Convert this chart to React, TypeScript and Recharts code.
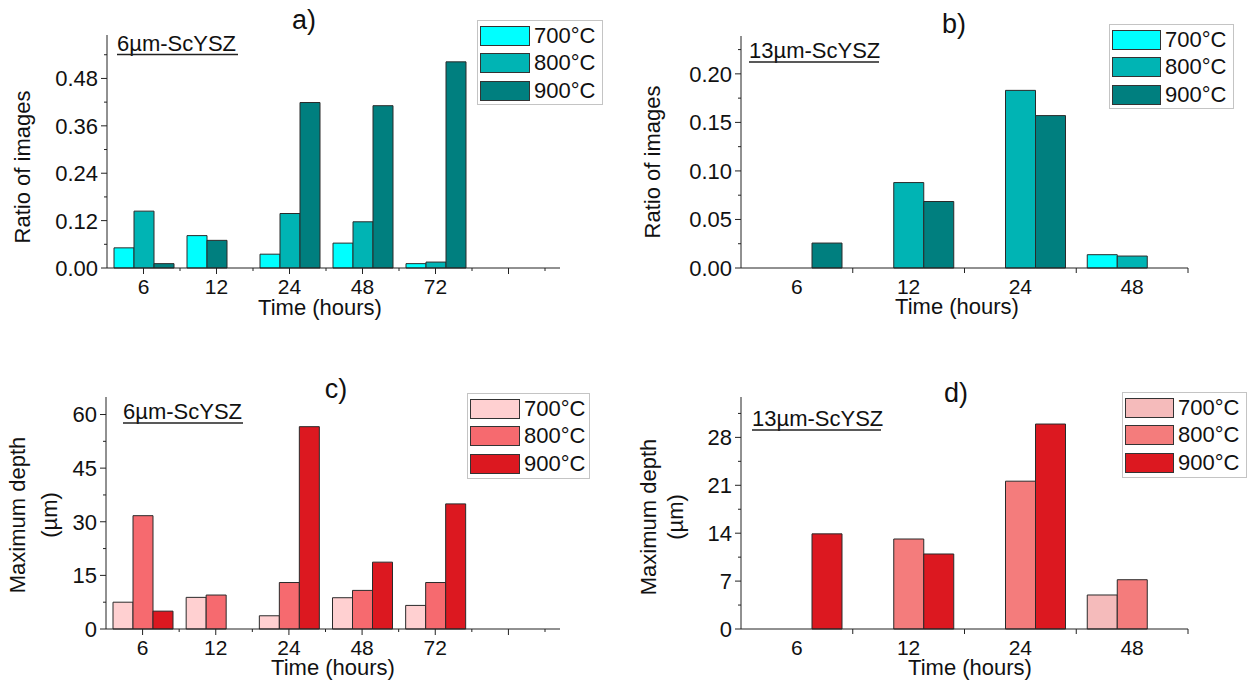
import { BarChart, Bar, XAxis, YAxis, Legend, Cell } from 'recharts';

const FONT = '"Liberation Sans", Arial, Helvetica, sans-serif';

// 6 µm samples (panels a, c): five times plus one empty slot on the right
const hours6 = ['6', '12', '24', '48', '72', ''];
const ratio6_700 = [0.051, 0.082, 0.035, 0.063, 0.011, 0];
const ratio6_800 = [0.144, 0.07, 0.138, 0.117, 0.015, 0];
const ratio6_900 = [0.011, 0, 0.419, 0.411, 0.522, 0];

const depth6_700 = [7.5, 8.85, 3.7, 8.75, 6.6, 0];
const depth6_800 = [31.7, 9.5, 13.0, 10.8, 13.0, 0];
const depth6_900 = [5.0, 0, 56.6, 18.7, 35.0, 0];

// 13 µm samples (panels b, d)
const hours13 = ['6', '12', '24', '48'];
const ratio13_700 = [0, 0, 0, 0.0137];
const ratio13_800 = [0, 0.088, 0.183, 0.0123];
const ratio13_900 = [0.0257, 0.0685, 0.157, 0];

const depth13_700 = [0, 0, 0, 4.97];
const depth13_800 = [0, 13.15, 21.6, 7.2];
const depth13_900 = [13.9, 10.96, 29.95, 0];

const temps = ['700°C', '800°C', '900°C'];

const teal = ['#00FFFF', '#00B4B4', '#007F7F'];
const redC = ['#FFD0D1', '#F66A6F', '#DC1820'];
const redD = ['#F5BBBB', '#F47C7C', '#DC1820'];

const rows = (hours: string[], a: number[], b: number[], c: number[]) =>
  hours.map((hour, i) => ({ hour, t700: a[i], t800: b[i], t900: c[i] }));

const tickList = (step: number, max: number) => {
  const out: number[] = [];
  for (let i = 0; i * step <= max + 1e-9; i++) out.push(+(i * step).toFixed(4));
  return out;
};

const YTick = (props: any) => {
  const { x, y, payload, index, fmt } = props;
  const major = index % 2 === 0;
  return (
    <g>
      <line x1={x - (major ? 6 : 3)} x2={x} y1={y} y2={y} stroke="#222" />
      {major && (
        <text x={x - 9} y={y} dy="0.36em" textAnchor="end" fontSize={22} fontFamily={FONT} fill="#111">
          {fmt(payload.value)}
        </text>
      )}
    </g>
  );
};

const XTick = (props: any) => {
  const { x, y, payload, band, centerTicks } = props;
  const half = band / 2;
  return (
    <g>
      {centerTicks && <line x1={x} x2={x} y1={y} y2={y + 6} stroke="#222" />}
      <line x1={x + half} x2={x + half} y1={y} y2={y + (centerTicks ? 3 : 5)} stroke="#222" />
      <text x={x} y={y + 26} textAnchor="middle" fontSize={21} fontFamily={FONT} fill="#111">
        {payload.value}
      </text>
    </g>
  );
};

const LegendBox = ({ payload, w, h, sw }: any) => (
  <div
    style={{
      width: w,
      height: h,
      boxSizing: 'border-box',
      border: '1px solid #c4c4c4',
      background: '#fff',
      padding: '1px 2px',
      fontFamily: FONT,
    }}
  >
    {(payload || []).map((p: any) => (
      <div key={p.value} style={{ display: 'flex', alignItems: 'center', height: 27.5 }}>
        <span
          style={{
            width: sw,
            height: 20,
            boxSizing: 'border-box',
            background: p.color,
            border: '1px solid #333',
          }}
        />
        <span style={{ marginLeft: 4, fontSize: 22, color: '#111', lineHeight: '22px' }}>{p.value}</span>
      </div>
    ))}
  </div>
);

type PanelProps = {
  left: number;
  top: number;
  width: number;
  height: number;
  data: any[];
  colors: string[];
  margin: { top: number; right: number };
  yWidth: number;
  xHeight: number;
  yMax: number;
  minorStep: number;
  fmt: (v: number) => string;
  barSize: number;
  padRight: number;
  centerTicks: boolean;
  legend: { left: number; top: number; w: number; h: number; sw: number };
  recolor800?: { hour: string; color: string };
};

function Panel(p: PanelProps) {
  const plotW = p.width - p.yWidth - p.margin.right;
  const band = (plotW - p.padRight) / p.data.length;
  return (
    <div style={{ position: 'absolute', left: p.left, top: p.top }}>
      <BarChart
        width={p.width}
        height={p.height}
        data={p.data}
        margin={{ top: p.margin.top, right: p.margin.right, bottom: 0, left: 0 }}
        barGap={0}
        barSize={p.barSize}
      >
        <XAxis
          dataKey="hour"
          height={p.xHeight}
          interval={0}
          tickSize={0}
          tickMargin={0}
          padding={{ left: 0, right: p.padRight }}
          axisLine={{ stroke: '#222' }}
          tickLine={false}
          tick={(tp: any) => <XTick {...tp} band={band} centerTicks={p.centerTicks} />}
        />
        <YAxis
          type="number"
          width={p.yWidth}
          domain={[0, p.yMax]}
          ticks={tickList(p.minorStep, p.yMax)}
          interval={0}
          tickSize={0}
          tickMargin={0}
          axisLine={{ stroke: '#222' }}
          tickLine={false}
          tick={(tp: any) => <YTick {...tp} fmt={p.fmt} />}
        />
        <Legend
          layout="vertical"
          align="center"
          verticalAlign="middle"
          wrapperStyle={{ left: p.legend.left, top: p.legend.top, width: p.legend.w, height: p.legend.h }}
          content={(lp: any) => <LegendBox payload={lp.payload} w={p.legend.w} h={p.legend.h} sw={p.legend.sw} />}
        />
        <Bar dataKey="t700" name={temps[0]} fill={p.colors[0]} stroke="#2a2a2a" strokeWidth={1} isAnimationActive={false} />
        <Bar dataKey="t800" name={temps[1]} fill={p.colors[1]} stroke="#2a2a2a" strokeWidth={1} isAnimationActive={false}>
          {p.data.map((d) => (
            <Cell
              key={`c-${d.hour}`}
              fill={p.recolor800 && p.recolor800.hour === d.hour ? p.recolor800.color : p.colors[1]}
            />
          ))}
        </Bar>
        <Bar dataKey="t900" name={temps[2]} fill={p.colors[2]} stroke="#2a2a2a" strokeWidth={1} isAnimationActive={false} />
      </BarChart>
    </div>
  );
}

const txt = { fontFamily: FONT, fill: '#111' };

export default function App() {
  return (
    <div style={{ position: 'absolute', left: 0, top: 0, width: 1249, height: 686, background: '#fff', overflow: 'hidden' }}>
      <Panel
        left={0}
        top={0}
        width={620}
        height={330}
        data={rows(hours6, ratio6_700, ratio6_800, ratio6_900)}
        colors={teal}
        margin={{ top: 35, right: 60 }}
        yWidth={107}
        xHeight={62}
        yMax={0.59}
        minorStep={0.06}
        fmt={(v) => v.toFixed(2)}
        barSize={20}
        padRight={15}
        centerTicks
        legend={{ left: 477, top: 20, w: 126, h: 85, sw: 50 }}
        recolor800={{ hour: '12', color: teal[2] }}
      />
      <Panel
        left={620}
        top={0}
        width={629}
        height={330}
        data={rows(hours13, ratio13_700, ratio13_800, ratio13_900)}
        colors={teal}
        margin={{ top: 36, right: 61 }}
        yWidth={121}
        xHeight={62}
        yMax={0.239}
        minorStep={0.025}
        fmt={(v) => v.toFixed(2)}
        barSize={30}
        padRight={0}
        centerTicks={false}
        legend={{ left: 489, top: 24, w: 125, h: 85, sw: 49 }}
      />
      <Panel
        left={0}
        top={330}
        width={620}
        height={356}
        data={rows(hours6, depth6_700, depth6_800, depth6_900)}
        colors={redC}
        margin={{ top: 67, right: 60 }}
        yWidth={106}
        xHeight={57}
        yMax={64.9}
        minorStep={7.5}
        fmt={(v) => String(v)}
        barSize={20}
        padRight={15}
        centerTicks
        legend={{ left: 467, top: 63, w: 123, h: 86, sw: 50 }}
      />
      <Panel
        left={620}
        top={330}
        width={629}
        height={356}
        data={rows(hours13, depth13_700, depth13_800, depth13_900)}
        colors={redD}
        margin={{ top: 67, right: 61 }}
        yWidth={121}
        xHeight={57}
        yMax={33.9}
        minorStep={3.5}
        fmt={(v) => String(v)}
        barSize={30}
        padRight={0}
        centerTicks={false}
        legend={{ left: 502, top: 62, w: 125, h: 86, sw: 49 }}
      />

      <svg width={1249} height={686} style={{ position: 'absolute', left: 0, top: 0, pointerEvents: 'none' }}>
        {/* panel titles */}
        <text x={304} y={29} textAnchor="middle" fontSize={27} {...txt}>a)</text>
        <text x={954} y={33} textAnchor="middle" fontSize={27} {...txt}>b)</text>
        <text x={336} y={398} textAnchor="middle" fontSize={27} {...txt}>c)</text>
        <text x={956} y={402} textAnchor="middle" fontSize={27} {...txt}>d)</text>

        {/* sample labels */}
        <text x={117} y={51} fontSize={22} {...txt}>6µm-ScYSZ</text>
        <line x1={117} x2={238} y1={54.5} y2={54.5} stroke="#222" strokeWidth={1.5} />
        <text x={749} y={58} fontSize={22} {...txt}>13µm-ScYSZ</text>
        <line x1={749} x2={879} y1={62} y2={62} stroke="#222" strokeWidth={1.5} />
        <text x={123} y={419} fontSize={22} {...txt}>6µm-ScYSZ</text>
        <line x1={123} x2={243} y1={423} y2={423} stroke="#222" strokeWidth={1.5} />
        <text x={752} y={426} fontSize={22} {...txt}>13µm-ScYSZ</text>
        <line x1={752} x2={881} y1={430} y2={430} stroke="#222" strokeWidth={1.5} />

        {/* axis titles */}
        <text x={320} y={315} textAnchor="middle" fontSize={22} {...txt}>Time (hours)</text>
        <text x={957} y={314} textAnchor="middle" fontSize={22} {...txt}>Time (hours)</text>
        <text x={333} y={675} textAnchor="middle" fontSize={22} {...txt}>Time (hours)</text>
        <text x={970} y={675} textAnchor="middle" fontSize={22} {...txt}>Time (hours)</text>

        <text transform="translate(22,167) rotate(-90)" textAnchor="middle" dy="0.35em" fontSize={22} {...txt}>Ratio of images</text>
        <text transform="translate(652,162) rotate(-90)" textAnchor="middle" dy="0.35em" fontSize={22} {...txt}>Ratio of images</text>
        <text transform="translate(17,515) rotate(-90)" textAnchor="middle" dy="0.35em" fontSize={22} {...txt}>Maximum depth</text>
        <text transform="translate(49,515) rotate(-90)" textAnchor="middle" dy="0.35em" fontSize={22} {...txt}>(µm)</text>
        <text transform="translate(648,517) rotate(-90)" textAnchor="middle" dy="0.35em" fontSize={22} {...txt}>Maximum depth</text>
        <text transform="translate(675,517) rotate(-90)" textAnchor="middle" dy="0.35em" fontSize={22} {...txt}>(µm)</text>
      </svg>
    </div>
  );
}
